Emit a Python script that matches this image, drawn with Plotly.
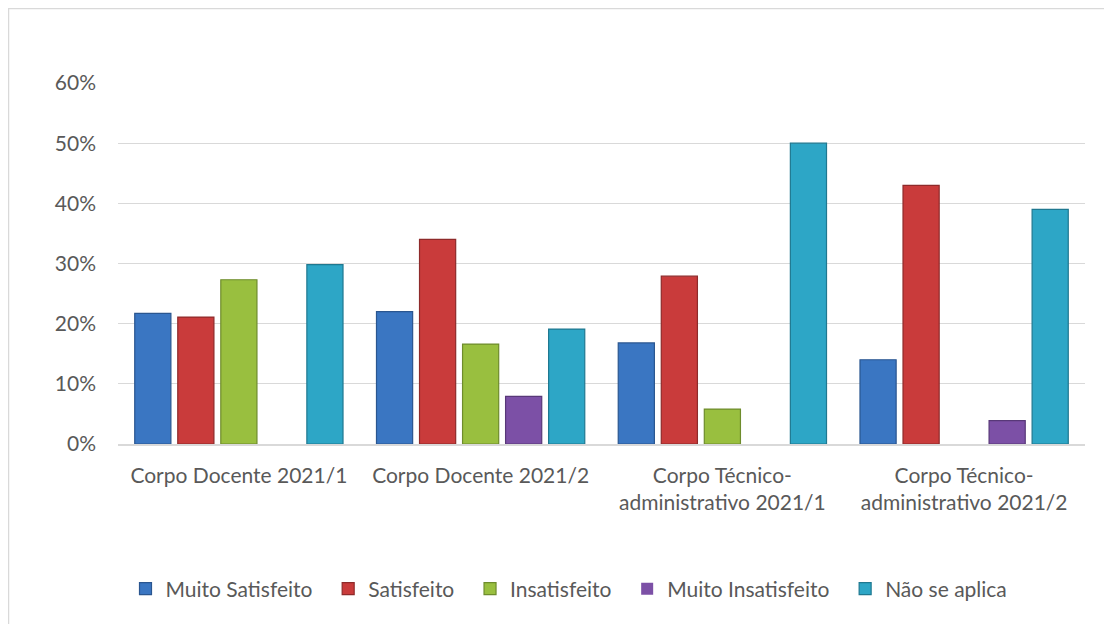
import plotly.graph_objects as go

categories = ["Corpo Docente 2021/1", "Corpo Docente 2021/2",
              "Corpo Técnico-<br>administrativo 2021/1", "Corpo Técnico-<br>administrativo 2021/2"]
series_names = ["Muito Satisfeito", "Satisfeito", "Insatisfeito", "Muito Insatisfeito", "Não se aplica"]
muito_satisfeito = [0.217, 0.220, 0.168, 0.140]
satisfeito = [0.211, 0.340, 0.279, 0.430]
insatisfeito = [0.273, 0.166, 0.058, 0.0]
muito_insatisfeito = [0.0, 0.079, 0.0, 0.039]
nao_se_aplica = [0.298, 0.191, 0.500, 0.390]
y_ticks = [0, 0.1, 0.2, 0.3, 0.4, 0.5, 0.6]

values = [muito_satisfeito, satisfeito, insatisfeito, muito_insatisfeito, nao_se_aplica]
fills = ["#3A76C2", "#C93B3B", "#99BF3F", "#7C50A6", "#2DA6C6"]
edges = ["#2A5690", "#8E2A2A", "#6E8C2C", "#583878", "#1F7890"]

FONT = "Lato, 'Open Sans', sans-serif"
TXT = "#595959"
FS = 21
PAD = "\u00a0\u00a0"

fig = go.Figure()
for i, (name, vals, fc, ec) in enumerate(zip(series_names, values, fills, edges)):
    fig.add_trace(go.Bar(
        name=name + (PAD if i < len(series_names) - 1 else ""), x=categories, y=vals,
        marker=dict(color=fc, line=dict(color=ec, width=[1.2 if v > 0 else 0 for v in vals])),
    ))

# page has an 8px body margin, so the figure is sized to sit inside the window
W, H = 1104, 616
L, R, T, B = 110, 27, 75, 180
pw, ph = W - L - R, H - T - B

fig.update_layout(
    width=W, height=H,
    margin=dict(l=L, r=R, t=T, b=B),
    paper_bgcolor="white", plot_bgcolor="white",
    barmode="group", bargap=0.11, bargroupgap=0.16,
    font=dict(family=FONT, size=FS, color=TXT),
    legend=dict(orientation="h", x=(569 - 118) / pw, xanchor="center", y=-145 / ph, yanchor="middle",
                font=dict(family=FONT, size=FS, color=TXT), itemwidth=30,
                traceorder="normal"),
    shapes=[
        dict(type="line", xref="paper", yref="paper",
             x0=-L / pw + 0.0005, x1=-L / pw + 0.0005, y0=(H - B) / ph, y1=-(B + 10) / ph,
             line=dict(color="#D9D9D9", width=1.5)),
        dict(type="line", xref="paper", yref="paper",
             x0=-L / pw, x1=(W + 10 - L) / pw, y0=(H - B - 0.5) / ph, y1=(H - B - 0.5) / ph,
             line=dict(color="#D9D9D9", width=1.5)),
    ],
)
fig.update_yaxes(range=[0, 0.6], tickvals=y_ticks, tickformat=".0%",
                 showgrid=True, gridcolor="#D9D9D9", gridwidth=1.2,
                 zeroline=False, showline=False, ticks="", ticklabelstandoff=21,
                 tickfont=dict(family=FONT, size=FS, color=TXT))
fig.update_xaxes(showline=True, linecolor="#D9D9D9", linewidth=1.5, ticks="",
                 tickfont=dict(family=FONT, size=FS, color=TXT), ticklabelstandoff=12)

fig.write_html("out.html")
